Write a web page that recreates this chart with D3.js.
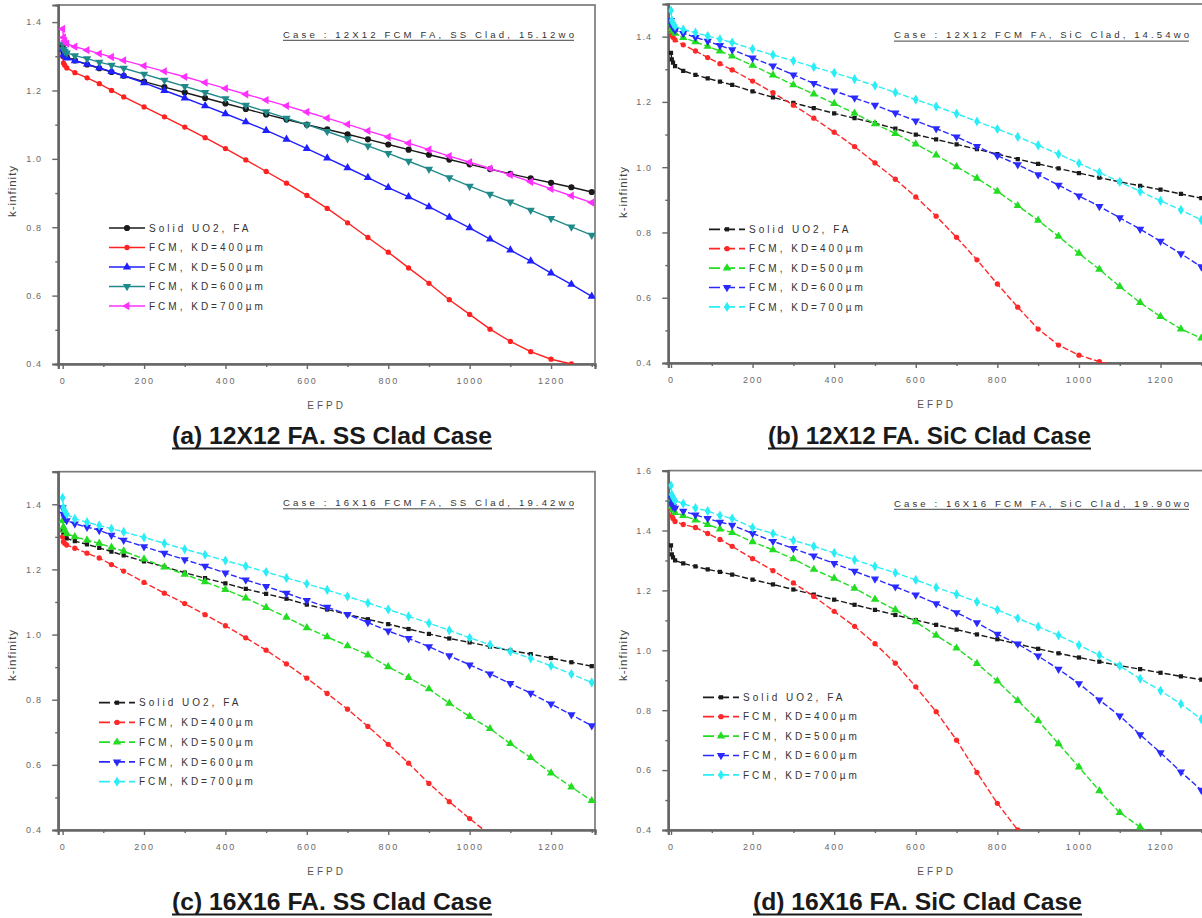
<!DOCTYPE html>
<html><head><meta charset="utf-8">
<script src="https://cdn.jsdelivr.net/npm/d3@7"></script>
<style>body{margin:0;background:#fff;} svg{display:block;}</style>
</head><body>
<svg id="chart" width="1202" height="918"></svg>
<script>
// ---------- data ----------
const efpd = [0,2,5,10,30,60,90,120,150,200,250,300,350,400,450,500,550,600,650,700,750,800,850,900,950,1000,1050,1100,1150,1200,1250,1300];
const legendLabels = ["Solid UO2, FA","FCM, KD=400µm","FCM, KD=500µm","FCM, KD=600µm","FCM, KD=700µm"];
const xTicks = [0,200,400,600,800,1000,1200];
const xMinorTicks = [100,300,500,700,900,1100,1300];
const yTicks14 = [0.4,0.6,0.8,1.0,1.2,1.4];
const yMinor14 = [0.5,0.7,0.9,1.1,1.3];
const yMinor15 = [0.5,0.7,0.9,1.1,1.3,1.5];
const yTicks16 = [0.4,0.6,0.8,1.0,1.2,1.4,1.6];

// (a) 12X12 SS clad
const aSolid = [1.330,1.310,1.303,1.298,1.288,1.276,1.265,1.254,1.243,1.226,1.210,1.194,1.178,1.162,1.146,1.130,1.115,1.100,1.086,1.072,1.057,1.042,1.027,1.012,0.998,0.984,0.970,0.956,0.943,0.930,0.917,0.903];
const a400 = [1.300,1.280,1.274,1.266,1.252,1.237,1.220,1.200,1.181,1.152,1.123,1.093,1.062,1.030,0.997,0.963,0.929,0.893,0.855,0.813,0.770,0.727,0.681,0.636,0.588,0.545,0.502,0.466,0.436,0.414,0.400,0.388];
const a500 = [1.320,1.305,1.300,1.295,1.287,1.277,1.266,1.255,1.243,1.222,1.200,1.178,1.155,1.132,1.108,1.083,1.057,1.030,1.002,0.974,0.945,0.916,0.889,0.860,0.829,0.798,0.765,0.733,0.701,0.666,0.633,0.598];
const a600 = [1.335,1.320,1.315,1.310,1.302,1.293,1.283,1.274,1.265,1.248,1.230,1.212,1.194,1.176,1.157,1.138,1.119,1.100,1.080,1.059,1.038,1.016,0.993,0.970,0.945,0.920,0.897,0.874,0.850,0.826,0.801,0.777];
const a700 = [1.380,1.355,1.345,1.337,1.328,1.318,1.308,1.298,1.288,1.272,1.256,1.240,1.223,1.206,1.189,1.172,1.155,1.137,1.119,1.101,1.082,1.064,1.046,1.027,1.008,0.990,0.972,0.953,0.933,0.912,0.892,0.872];

// (b) 12X12 SiC clad
const bSolid = [1.350,1.330,1.320,1.310,1.295,1.283,1.272,1.262,1.252,1.232,1.214,1.197,1.181,1.165,1.150,1.135,1.118,1.100,1.085,1.070,1.055,1.040,1.025,1.010,0.996,0.982,0.968,0.955,0.943,0.931,0.918,0.905];
const b400 = [1.420,1.405,1.398,1.390,1.375,1.356,1.336,1.317,1.298,1.264,1.228,1.190,1.150,1.107,1.063,1.013,0.963,0.909,0.850,0.785,0.716,0.642,0.571,0.504,0.455,0.424,0.404,0.390,null,null,null,null];
const b500 = [1.440,1.425,1.417,1.410,1.397,1.384,1.370,1.356,1.340,1.312,1.282,1.252,1.224,1.195,1.165,1.133,1.103,1.071,1.037,1.001,0.966,0.926,0.882,0.837,0.788,0.736,0.687,0.634,0.585,0.542,0.504,0.476];
const b600 = [1.450,1.435,1.428,1.420,1.410,1.398,1.386,1.373,1.360,1.335,1.310,1.283,1.257,1.234,1.212,1.190,1.166,1.142,1.118,1.093,1.064,1.035,1.008,0.977,0.945,0.912,0.880,0.845,0.810,0.773,0.735,0.695];
const b700 = [1.480,1.450,1.440,1.432,1.422,1.412,1.402,1.392,1.382,1.362,1.344,1.326,1.307,1.289,1.270,1.250,1.229,1.207,1.186,1.164,1.140,1.117,1.093,1.067,1.040,1.012,0.984,0.955,0.926,0.897,0.869,0.838];

// (c) 16X16 SS clad
const cSolid = [1.320,1.305,1.300,1.295,1.287,1.277,1.266,1.255,1.243,1.225,1.208,1.190,1.173,1.157,1.140,1.125,1.110,1.092,1.077,1.062,1.047,1.032,1.017,1.002,0.988,0.976,0.963,0.951,0.940,0.928,0.915,0.903];
const c400 = [1.300,1.285,1.280,1.275,1.265,1.250,1.235,1.215,1.195,1.160,1.127,1.095,1.061,1.027,0.990,0.952,0.910,0.866,0.819,0.771,0.718,0.663,0.605,0.543,0.487,0.435,0.385,null,null,null,null,null];
const c500 = [1.350,1.330,1.320,1.310,1.300,1.290,1.280,1.268,1.256,1.232,1.207,1.185,1.162,1.138,1.112,1.083,1.053,1.021,0.993,0.965,0.937,0.901,0.868,0.833,0.789,0.748,0.711,0.665,0.622,0.575,0.532,0.490];
const c600 = [1.390,1.370,1.360,1.350,1.340,1.330,1.320,1.305,1.290,1.270,1.250,1.230,1.210,1.189,1.168,1.148,1.127,1.105,1.084,1.062,1.037,1.011,0.988,0.963,0.935,0.907,0.879,0.850,0.820,0.787,0.754,0.720];
const c700 = [1.420,1.390,1.380,1.370,1.355,1.345,1.335,1.325,1.315,1.298,1.280,1.262,1.245,1.227,1.210,1.192,1.174,1.156,1.137,1.117,1.097,1.077,1.056,1.035,1.013,0.990,0.969,0.948,0.927,0.904,0.879,0.853];

// (d) 16X16 SiC clad
const dSolid = [1.350,1.320,1.310,1.300,1.290,1.280,1.270,1.262,1.253,1.236,1.220,1.203,1.186,1.169,1.152,1.135,1.118,1.101,1.085,1.069,1.053,1.037,1.021,1.005,0.990,0.976,0.962,0.949,0.937,0.925,0.913,0.902];
const d400 = [1.470,1.450,1.440,1.430,1.420,1.410,1.390,1.370,1.347,1.306,1.266,1.225,1.180,1.130,1.080,1.022,0.957,0.878,0.795,0.700,0.592,0.489,0.400,0.330,null,null,null,null,null,null,null,null];
const d500 = [1.500,1.480,1.470,1.460,1.450,1.435,1.420,1.405,1.393,1.362,1.335,1.305,1.270,1.240,1.207,1.170,1.135,1.095,1.050,1.007,0.956,0.897,0.832,0.765,0.688,0.610,0.531,0.458,0.410,0.370,null,null];
const d600 = [1.510,1.490,1.480,1.475,1.465,1.452,1.440,1.428,1.418,1.390,1.364,1.340,1.315,1.290,1.264,1.238,1.212,1.185,1.156,1.126,1.092,1.054,1.021,0.981,0.937,0.889,0.834,0.781,0.718,0.658,0.594,0.533];
const d700 = [1.550,1.520,1.510,1.500,1.490,1.475,1.465,1.450,1.440,1.410,1.390,1.367,1.347,1.325,1.302,1.280,1.259,1.235,1.210,1.187,1.162,1.135,1.107,1.079,1.050,1.017,0.984,0.948,0.905,0.865,0.821,0.770];

const caseTexts = ["Case : 12X12 FCM FA, SS Clad, 15.12wo","Case : 12X12 FCM FA, SiC Clad, 14.54wo","Case : 16X16 FCM FA, SS Clad, 19.42wo","Case : 16X16 FCM FA, SiC Clad, 19.90wo"];
const captions = ["(a) 12X12 FA. SS Clad Case","(b) 12X12 FA. SiC Clad Case","(c) 16X16 FA. SS Clad Case","(d) 16X16 FA. SiC Clad Case"];

// ---------- styles / layout ----------
const colA = ["#1a1a1a","#ff2020","#2020ff","#208a8a","#ff30ff"];
const colB = ["#1a1a1a","#ff2828","#22dd22","#2a2aff","#2aeef5"];
const symA = ["circle","circleS","up","down","left"];
const symB = ["square","circleS","up","down","diamond"];

const panels = [
 {series:[aSolid,a400,a500,a600,a700], colors:colA, syms:symA, dash:null,
  x0:58.3, x1:595, y0:5, y1:364, xDom:[-10.8,1308], yMax:1.45, yTicks:yTicks14, yMinor:yMinor14,
  legX:109, legY:228, legStep:19.5, caseX:[283,574], caseY:37.5, capX:[172,492], capY:444, ttlX:12, ttlY:191},
 {series:[bSolid,b400,b500,b600,b700], colors:colB, syms:symB, dash:"6,2.5",
  x0:668.3, x1:1205, y0:4, y1:363, xDom:[-6.6,1309], yMax:1.5, yTicks:yTicks14, yMinor:yMinor15,
  legX:709, legY:229.3, legStep:19.4, caseX:[894,1189], caseY:38.3, capX:[768,1091], capY:444, ttlX:623, ttlY:192},
 {series:[cSolid,c400,c500,c600,c700], colors:colB, syms:symB, dash:"6,2.5",
  x0:58.2, x1:595, y0:471.7, y1:830, xDom:[-10.8,1308], yMax:1.5, yTicks:yTicks14, yMinor:yMinor15,
  legX:99, legY:702.7, legStep:19.75, caseX:[283,574], caseY:506, capX:[172,492], capY:910, ttlX:12, ttlY:655},
 {series:[dSolid,d400,d500,d600,d700], colors:colB, syms:symB, dash:"6,2.5",
  x0:668.3, x1:1205, y0:470.6, y1:830, xDom:[-6.6,1309], yMax:1.6, yTicks:yTicks16, yMinor:[0.5,0.7,0.9,1.1,1.3,1.5],
  legX:703, legY:697.3, legStep:19.4, caseX:[894,1189], caseY:506.5, capX:[753,1082], capY:910, ttlX:623, ttlY:655}
];

const svg = d3.select("#chart");
const FONT = "'Liberation Sans', Arial, sans-serif";

function symbolPath(kind){
  const g = d3.symbol();
  switch(kind){
    case "circle": return {d:g.type(d3.symbolCircle).size(30)(), rot:0};
    case "circleS": return {d:g.type(d3.symbolCircle).size(22)(), rot:0};
    case "square": return {d:g.type(d3.symbolSquare).size(18)(), rot:0};
    case "up": return {d:g.type(d3.symbolTriangle).size(30)(), rot:0};
    case "down": return {d:g.type(d3.symbolTriangle).size(30)(), rot:180};
    case "left": return {d:g.type(d3.symbolTriangle).size(30)(), rot:-90};
    case "diamond": return {d:g.type(d3.symbolDiamond).size(30)(), rot:0};
  }
}

panels.forEach((p, pi) => {
  const x = d3.scaleLinear().domain(p.xDom).range([p.x0, p.x1]);
  const y = d3.scaleLinear().domain([0.4, p.yMax]).range([p.y1, p.y0]);
  const g = svg.append("g");
  const clipId = "clip" + pi;
  svg.append("clipPath").attr("id", clipId).append("rect")
    .attr("x", p.x0).attr("y", p.y0).attr("width", p.x1 - p.x0).attr("height", p.y1 - p.y0);

  // frame
  g.append("rect").attr("x", p.x0).attr("y", p.y0).attr("width", p.x1 - p.x0).attr("height", p.y1 - p.y0)
    .attr("fill", "none").attr("stroke", "#7a7a7a").attr("stroke-width", 1.7);

  // y axis
  const yAx = d3.axisLeft(y).tickValues(p.yTicks).tickFormat(d3.format(".1f")).tickSize(6).tickPadding(10);
  const yg = g.append("g").attr("transform", `translate(${p.x0},0)`).call(yAx);
  const yMinAx = d3.axisLeft(y).tickValues(p.yMinor).tickFormat("").tickSize(3);
  const ymg = g.append("g").attr("transform", `translate(${p.x0},0)`).call(yMinAx);
  // x axis
  const xAx = d3.axisBottom(x).tickValues(xTicks).tickFormat(d3.format("d")).tickSize(5).tickPadding(9);
  const xg = g.append("g").attr("transform", `translate(0,${p.y1})`).call(xAx);
  const xMinAx = d3.axisBottom(x).tickValues(xMinorTicks).tickFormat("").tickSize(3);
  const xmg = g.append("g").attr("transform", `translate(0,${p.y1})`).call(xMinAx);
  [yg, ymg, xg, xmg].forEach(a => {
    a.select(".domain").attr("stroke", "#666").attr("stroke-width", 2.2);
    a.selectAll(".tick line").attr("stroke", "#666").attr("stroke-width", 1.4);
    a.selectAll("text").attr("fill", "#6a6a6a").attr("font-family", FONT).attr("font-size", 9)
      .attr("letter-spacing", "1.2px");
  });
  xg.selectAll("text").attr("letter-spacing", "1.8px");

  // axis titles
  g.append("text").attr("x", (p.x0 + p.x1) / 2).attr("y", p.y1 + 44.5)
    .attr("text-anchor", "middle").attr("font-family", FONT).attr("font-size", 10)
    .attr("letter-spacing", "3px").attr("fill", "#555").text("EFPD");
  g.append("text").attr("transform", `translate(${p.ttlX},${p.ttlY}) rotate(-90)`)
    .attr("text-anchor", "middle").attr("dominant-baseline", "central")
    .attr("font-family", FONT).attr("font-size", 11.5).attr("letter-spacing", "1px")
    .attr("fill", "#444").text("k-infinity");

  // series
  const plot = g.append("g").attr("clip-path", `url(#${clipId})`);
  p.series.forEach((vals, si) => {
    const pts = efpd.map((e, i) => ({e, v: vals[i]}));
    const line = d3.line().defined(d => d.v != null).x(d => x(d.e)).y(d => y(d.v));
    plot.append("path").attr("d", line(pts)).attr("fill", "none")
      .attr("stroke", p.colors[si]).attr("stroke-width", 1.4)
      .attr("stroke-dasharray", p.dash);
    const sp = symbolPath(p.syms[si]);
    plot.selectAll(null).data(pts.filter(d => d.v != null)).enter().append("path")
      .attr("d", sp.d).attr("fill", p.colors[si])
      .attr("transform", d => `translate(${x(d.e)},${y(d.v)}) rotate(${sp.rot})`);
  });

  // legend
  legendLabels.forEach((lab, si) => {
    const ly = p.legY + si * p.legStep;
    const lx0 = p.legX, lx1 = p.legX + 36;
    g.append("line").attr("x1", lx0).attr("x2", lx1).attr("y1", ly).attr("y2", ly)
      .attr("stroke", p.colors[si]).attr("stroke-width", 1.7)
      .attr("stroke-dasharray", p.dash ? "11,4" : null);
    const sp = symbolPath(p.syms[si]);
    g.append("path").attr("d", sp.d).attr("fill", p.colors[si])
      .attr("transform", `translate(${(lx0 + lx1) / 2},${ly}) rotate(${sp.rot})`);
    g.append("text").attr("x", lx1 + 4).attr("y", ly + 3.6)
      .attr("font-family", FONT).attr("font-size", 10).attr("letter-spacing", "3px")
      .attr("fill", "#333").text(lab);
  });

  // case text (underlined)
  g.append("text").attr("x", p.caseX[0]).attr("y", p.caseY)
    .attr("font-family", FONT).attr("font-size", 9.6).attr("fill", "#333")
    .attr("textLength", p.caseX[1] - p.caseX[0]).attr("lengthAdjust", "spacing")
    .text(caseTexts[pi]);
  g.append("line").attr("x1", p.caseX[0]).attr("x2", p.caseX[1])
    .attr("y1", p.caseY + 2.8).attr("y2", p.caseY + 2.8).attr("stroke", "#444").attr("stroke-width", 1);

  // caption (bold, underlined)
  g.append("text").attr("x", p.capX[0]).attr("y", p.capY)
    .attr("font-family", FONT).attr("font-weight", "bold").attr("font-size", 24).attr("fill", "#1a1a1a")
    .attr("textLength", p.capX[1] - p.capX[0]).attr("lengthAdjust", "spacingAndGlyphs")
    .text(captions[pi]);
  g.append("line").attr("x1", p.capX[0]).attr("x2", p.capX[1])
    .attr("y1", p.capY + 4.5).attr("y2", p.capY + 4.5).attr("stroke", "#1a1a1a").attr("stroke-width", 2);
});
</script>
</body></html>
